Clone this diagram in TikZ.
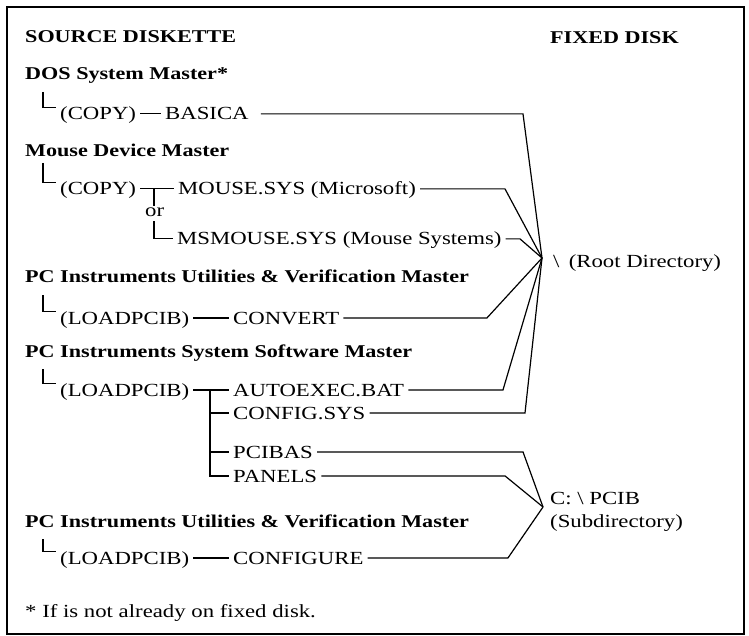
\documentclass[tikz,border=0pt]{standalone}
\usepackage{fontspec}
\setmainfont{Liberation Serif}[FakeStretch=1.23]
\begin{document}
\begin{tikzpicture}[x=1pt,y=-1pt,
  every node/.style={inner sep=0pt},
  hdr/.style={anchor=base west, font=\fontsize{18}{21}\selectfont\bfseries},
  item/.style={anchor=base west, font=\fontsize{18.5}{22}\selectfont,
    text height=12.2pt, text depth=0pt, inner xsep=4pt},
  plain/.style={anchor=base west, font=\fontsize{18.5}{22}\selectfont},
  wire/.style={line width=1.2pt, line join=miter},
  ]
\useasboundingbox (0,0) rectangle (749,636);
% frame
\draw[line width=1.4pt] (7,7) rectangle (744,634);

% column headings
\node[hdr] (src)   at (25,43)  {SOURCE DISKETTE};
\node[hdr] (fixed) at (550,44) {FIXED DISK};

% DOS System Master
\node[hdr]  (dos)    at (25,80)   {DOS System Master*};
\node[item] (copyA)  at (56,120)  {(COPY)};
\node[item] (basica) at (161,120) {BASICA};

% Mouse Device Master
\node[hdr]  (mouse)    at (25,157)  {Mouse Device Master};
\node[item] (copyB)    at (56,195)  {(COPY)};
\node[item] (mousesys) at (174,195) {MOUSE.SYS (Microsoft)};
\node[plain] (or)      at (145,217) {or};
\node[item] (msmouse)  at (173,245) {MSMOUSE.SYS (Mouse Systems)};

% PC Instruments Utilities & Verification Master
\node[hdr]  (util)    at (25,283)  {PC Instruments Utilities \& Verification Master};
\node[item] (loadA)   at (56,324)  {(LOADPCIB)};
\node[item] (convert) at (229,324) {CONVERT};

% PC Instruments System Software Master
\node[hdr]  (sys)      at (25,357)  {PC Instruments System Software Master};
\node[item] (loadB)    at (56,396)  {(LOADPCIB)};
\node[item] (autoexec) at (229,396) {AUTOEXEC.BAT};
\node[item] (config)   at (229,419) {CONFIG.SYS};
\node[item] (pcibas)   at (229,458) {PCIBAS};
\node[item] (panels)   at (229,482) {PANELS};

% PC Instruments Utilities & Verification Master (second)
\node[hdr]  (utilB)     at (25,527)  {PC Instruments Utilities \& Verification Master};
\node[item] (loadC)     at (56,564)  {(LOADPCIB)};
\node[item] (configure) at (229,564) {CONFIGURE};

% footnote
\node[plain] (note) at (25,617) {* If is not already on fixed disk.};

% destinations
\node[plain] (rootlbl) at (553,268) {\textbackslash\hspace{0.5em}(Root Directory)};
\node[plain] (sublblA) at (550,504) {C: \textbackslash\ PCIB};
\node[plain] (sublblB) at (550,527) {(Subdirectory)};
\coordinate (root) at (542,258);
\coordinate (sub)  at (543,507);

% brackets from each diskette to its command
\draw[wire] ([xshift=18pt,yshift=-12pt]dos.base west)   |- (copyA.north west);
\draw[wire] ([xshift=18pt,yshift=-6pt]mouse.base west)  |- (copyB.north west);
\draw[wire] ([xshift=18pt,yshift=-12pt]util.base west)  |- (loadA.north west);
\draw[wire] ([xshift=18pt,yshift=-12pt]sys.base west)   |- (loadB.north west);
\draw[wire] ([xshift=18pt,yshift=-12pt]utilB.base west) |- (loadC.north west);

% command to file
\draw[wire] (copyA.east) -- (basica.west);
\draw[wire] (loadA.east) -- (convert.west);
\draw[wire] (loadC.east) -- (configure.west);
\draw[wire] (copyB.east) -- (mousesys.west);
\coordinate (jB) at (154,0);
\draw[wire] (mousesys.west -| jB) -- ([yshift=2pt]or.north -| jB);
\draw[wire] ([yshift=-4pt]or.south -| jB) |- (msmouse.west);
\draw[wire] (loadB.east) -- (autoexec.west);
\coordinate (trunk) at (210,0);
\draw[wire] (autoexec.west -| trunk) |- (panels.west);
\draw[wire] (config.west -| trunk) -- (config.west);
\draw[wire] (pcibas.west -| trunk) -- (pcibas.west);

% files to the root directory
\draw[wire, shorten <=8pt] (basica.east) -- (basica.east -| 523,0) -- (root);
\draw[wire] (mousesys.east) -- (mousesys.east -| 505,0) -- (root);
\draw[wire] (msmouse.east) -- (msmouse.east -| 520,0) -- (root);
\draw[wire] (convert.east) -- (convert.east -| 487,0) -- (root);
\draw[wire] (autoexec.east) -- (autoexec.east -| 503,0) -- (root);
\draw[wire] (config.east) -- (config.east -| 525,0) -- (root);

% files to the PCIB subdirectory
\draw[wire] (pcibas.east) -- (pcibas.east -| 523,0) -- (sub);
\draw[wire] (panels.east) -- (panels.east -| 505,0) -- (sub);
\draw[wire] (configure.east) -- (configure.east -| 508,0) -- (sub);
\end{tikzpicture}
\end{document}
